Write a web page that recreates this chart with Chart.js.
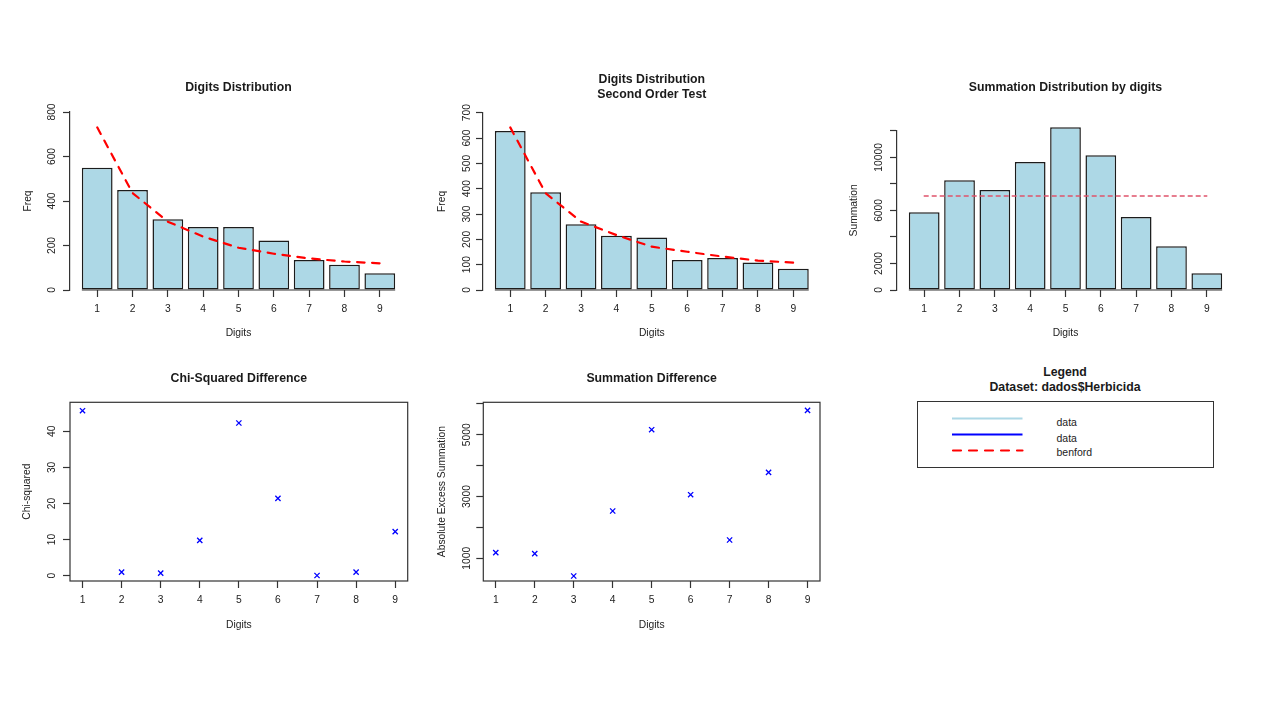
<!DOCTYPE html>
<html>
<head>
<meta charset="utf-8">
<title>Benford analysis</title>
<script src="https://cdn.jsdelivr.net/npm/chart.js@4.4.1/dist/chart.umd.min.js"></script>
<style>
  html, body { margin: 0; padding: 0; background: #fff; }
  #page { position: relative; width: 1280px; height: 720px; overflow: hidden;
          font-family: "Liberation Sans", Arial, Helvetica, sans-serif; color: #222; }
  #page canvas { position: absolute; }
  .legend-title { position: absolute; left: 900px; width: 330px; top: 364.5px; text-align: center;
                  font-weight: bold; font-size: 12.3px; line-height: 15px; color: #1a1a1a; }
  .legend-box { position: absolute; left: 917px; top: 401px; width: 297px; height: 67px;
                box-sizing: border-box; border: 1.2px solid #333; }
  .legend-box svg { position: absolute; left: -1px; top: -1px; }
  .legend-box span { position: absolute; left: 138.5px; font-size: 10.5px; line-height: 12px; }
</style>
</head>
<body>
<div id="page">
  <canvas id="firstDigits"></canvas>
  <canvas id="secondOrder"></canvas>
  <canvas id="summation"></canvas>
  <canvas id="chiSquare"></canvas>
  <canvas id="sumDifference"></canvas>

  <div class="legend-title">Legend<br>Dataset: dados$Herbicida</div>
  <div class="legend-box">
    <svg width="297" height="67">
      <line x1="35" y1="17.5" x2="105.5" y2="17.5" stroke="#ADD8E6" stroke-width="2.2"/>
      <line x1="35" y1="33.5" x2="105.5" y2="33.5" stroke="#0000FF" stroke-width="2.2"/>
      <line x1="36" y1="49.5" x2="105.5" y2="49.5" stroke="#FF0000" stroke-width="2.2"
            stroke-dasharray="8 8" stroke-linecap="round"/>
    </svg>
    <span style="top:13.5px">data</span>
    <span style="top:29.5px">data</span>
    <span style="top:44px">benford</span>
  </div>
</div>
<script>
// values
const digits = [1, 2, 3, 4, 5, 6, 7, 8, 9];

const firstFreq    = [550, 449, 318, 283, 283, 222, 135, 114, 75];
const firstBenford = [731, 436, 307, 240, 190, 163, 142, 128, 120];

const secondFreq    = [628, 386, 260, 214, 207, 118, 126, 109, 84];
const secondBenford = [642, 382, 270, 217, 171, 151, 132, 116, 108];

const digitSums    = [5854, 8264, 7536, 9646, 12260, 10148, 5500, 3290, 1256];
const sumsBenford  = [7084, 7084, 7084, 7084, 7084, 7084, 7084, 7084, 7084];

const chiSquared   = [45.7, 1.0, 0.7, 9.8, 42.3, 21.4, 0.05, 1.0, 12.2];
const excessSums   = [1181, 1149, 427, 2531, 5162, 3058, 1592, 3783, 5790];

// y axis ticks, and the ones that carry a label
const freqTicks1      = [0, 200, 400, 600, 800];
const freqTicks2      = [0, 100, 200, 300, 400, 500, 600, 700];
const sumTicks        = [0, 2000, 4000, 6000, 8000, 10000, 12000];
const sumTickLabels   = [0, 2000, 6000, 10000];
const chiTicks        = [0, 10, 20, 30, 40];
const excessTicks     = [1000, 2000, 3000, 4000, 5000, 6000];
const excessTickLabels = [1000, 3000, 5000];

const FAMILY = '"Liberation Sans", Arial, Helvetica, sans-serif';
const INK = '#222';
const AXIS = '#333';
const TICK_LEN = 7;
const TITLE_LH = 15.7;
const tickFont  = { family: FAMILY, size: 10.3, lineHeight: '12px' };
const titleFont = { family: FAMILY, size: 12.3, weight: 'bold', lineHeight: TITLE_LH + 'px' };

const measureCtx = document.createElement('canvas').getContext('2d');
function widest(labels) {
  measureCtx.font = tickFont.size + 'px ' + FAMILY;
  return Math.max(...labels.map(s => measureCtx.measureText(String(s)).width));
}

function points(ys) {
  return digits.map((d, i) => ({ x: d, y: ys[i] }));
}

// draws the R-style box, or the baseline under the bars
const rFrame = {
  id: 'rFrame',
  afterDatasetsDraw(chart, args, opts) {
    const { ctx, chartArea: a } = chart;
    ctx.save();
    ctx.strokeStyle = AXIS;
    ctx.lineWidth = 1.2;
    if (opts.box) {
      ctx.strokeRect(a.left, a.top, a.right - a.left, a.bottom - a.top);
    }
    if (opts.baseline) {
      const meta = chart.getSortedVisibleDatasetMetas().find(m => m.type === 'bar');
      const bars = meta.data;
      const y = chart.scales.y.getPixelForValue(0);
      ctx.beginPath();
      ctx.moveTo(bars[0].x - bars[0].width / 2, y);
      ctx.lineTo(bars[bars.length - 1].x + bars[bars.length - 1].width / 2, y);
      ctx.stroke();
    }
    ctx.restore();
  }
};

function makeChart(id, spec, cfg) {
  const { box, area, text } = spec;
  const canvas = document.getElementById(id);
  canvas.width = box.w;
  canvas.height = box.h;
  canvas.style.left = box.x + 'px';
  canvas.style.top = box.y + 'px';
  canvas.style.width = box.w + 'px';
  canvas.style.height = box.h + 'px';

  const yLabels = cfg.yLabels || cfg.yTicks;
  const yw = area.left - text.yTitle + 6;
  const xh = text.xTitle + 6 - area.bottom;
  const titleTop = text.title - box.y - TITLE_LH / 2;
  const titleBottom = area.top - box.y - titleTop - TITLE_LH * cfg.title.length;
  const yTickPad = area.left - TICK_LEN - text.yTick - widest(yLabels) / 2;
  const xTickPad = text.xTick - area.bottom - TICK_LEN - 6;

  const grid = {
    display: true, drawOnChartArea: false, drawTicks: true, offset: false,
    tickLength: TICK_LEN, tickColor: AXIS, tickWidth: 1.2
  };

  return new Chart(canvas, {
    type: cfg.type,
    data: { datasets: cfg.datasets },
    options: {
      responsive: false,
      animation: false,
      events: [],
      layout: {
        padding: {
          left: area.left - box.x - yw,
          right: box.x + box.w - area.right,
          top: 0,
          bottom: box.y + box.h - area.bottom - xh
        }
      },
      plugins: {
        legend: { display: false },
        tooltip: { enabled: false },
        title: {
          display: true, text: cfg.title, fullSize: false, font: titleFont, color: '#1a1a1a',
          padding: { top: titleTop, bottom: titleBottom }
        },
        rFrame: cfg.frame
      },
      scales: {
        x: {
          type: 'linear', position: 'bottom', offset: false,
          min: cfg.xRange[0], max: cfg.xRange[1],
          afterBuildTicks: s => { s.ticks = digits.map(v => ({ value: v })); },
          afterFit: s => { s.height = xh; },
          grid: grid,
          border: { display: false },
          ticks: {
            autoSkip: false, maxRotation: 0,
            padding: xTickPad, font: tickFont, color: INK,
            callback: v => String(v)
          },
          title: { display: true, text: 'Digits', font: tickFont, color: INK, padding: 0 }
        },
        y: {
          type: 'linear', position: 'left',
          min: cfg.yRange[0], max: cfg.yRange[1],
          afterBuildTicks: s => { s.ticks = cfg.yTicks.map(v => ({ value: v })); },
          afterFit: s => { s.width = yw; },
          grid: grid,
          border: { display: !cfg.frame.box, color: AXIS, width: 1.2 },
          ticks: {
            autoSkip: false, minRotation: 90, maxRotation: 90, crossAlign: 'center',
            padding: yTickPad, font: tickFont, color: INK,
            callback: v => yLabels.includes(v) ? String(v) : ''
          },
          title: { display: true, text: cfg.yTitle, font: tickFont, color: INK, padding: 0 }
        }
      }
    },
    plugins: [rFrame]
  });
}

function barSet(values, extra) {
  return Object.assign({
    type: 'bar', data: points(values), order: 1,
    backgroundColor: '#ADD8E6', borderColor: '#1c1c1c', borderWidth: 1.5,
    borderSkipped: false, categoryPercentage: 1, barPercentage: 0.87
  }, extra || {});
}

function dashedSet(values, color, width, dash) {
  return {
    type: 'line', data: points(values), order: 0,
    borderColor: color, borderWidth: width, borderDash: dash, borderCapStyle: 'round',
    pointRadius: 0, fill: false, tension: 0
  };
}

function crossSet(values) {
  return {
    type: 'scatter', data: points(values), showLine: false,
    pointStyle: 'crossRot', pointRadius: 3.7, pointBorderWidth: 1.3,
    pointBorderColor: '#0000FF', pointBackgroundColor: 'rgba(0,0,0,0)'
  };
}

makeChart('firstDigits', {
  box: { x: 0, y: 60, w: 425, h: 300 },
  area: { left: 70, right: 407, top: 112, bottom: 290 },
  text: { title: 87.3, yTitle: 28.3, yTick: 51.7, xTick: 309, xTitle: 333.3 }
}, {
  type: 'bar', title: ['Digits Distribution'], yTitle: 'Freq',
  xRange: [0.23, 9.77], yRange: [0, 800], yTicks: freqTicks1,
  frame: { baseline: true },
  datasets: [barSet(firstFreq), dashedSet(firstBenford, '#FF0000', 2.2, [7.5, 7.5])]
});

makeChart('secondOrder', {
  box: { x: 425, y: 60, w: 420, h: 300 },
  area: { left: 483, right: 820.6, top: 112.7, bottom: 290 },
  text: { title: 79.3, yTitle: 441.7, yTick: 466.7, xTick: 309, xTitle: 333.3 }
}, {
  type: 'bar', title: ['Digits Distribution', 'Second Order Test'], yTitle: 'Freq',
  xRange: [0.23, 9.77], yRange: [0, 700], yTicks: freqTicks2,
  frame: { baseline: true },
  datasets: [barSet(secondFreq), dashedSet(secondBenford, '#FF0000', 2.2, [7.5, 7.5])]
});

makeChart('summation', {
  box: { x: 845, y: 60, w: 435, h: 300 },
  area: { left: 897, right: 1234, top: 130.8, bottom: 290 },
  text: { title: 87.3, yTitle: 854, yTick: 879.3, xTick: 309, xTitle: 333.3 }
}, {
  type: 'bar', title: ['Summation Distribution by digits'], yTitle: 'Summation',
  xRange: [0.23, 9.77], yRange: [0, 12000], yTicks: sumTicks, yLabels: sumTickLabels,
  frame: { baseline: true },
  datasets: [barSet(digitSums, { clip: false }), dashedSet(sumsBenford, '#DF536B', 1.4, [4, 4])]
});

makeChart('chiSquare', {
  box: { x: 0, y: 360, w: 425, h: 300 },
  area: { left: 70, right: 407.7, top: 402.3, bottom: 581 },
  text: { title: 379, yTitle: 27.3, yTick: 51.7, xTick: 600, xTitle: 625 }
}, {
  type: 'scatter', title: ['Chi-Squared Difference'], yTitle: 'Chi-squared',
  xRange: [0.68, 9.32], yRange: [-1.47, 48.03], yTicks: chiTicks,
  frame: { box: true },
  datasets: [crossSet(chiSquared)]
});

makeChart('sumDifference', {
  box: { x: 425, y: 360, w: 420, h: 300 },
  area: { left: 483.3, right: 820, top: 402.3, bottom: 581 },
  text: { title: 379, yTitle: 441.7, yTick: 466.7, xTick: 600, xTitle: 625 }
}, {
  type: 'scatter', title: ['Summation Difference'], yTitle: 'Absolute Excess Summation',
  xRange: [0.68, 9.32], yRange: [265, 6049], yTicks: excessTicks, yLabels: excessTickLabels,
  frame: { box: true },
  datasets: [crossSet(excessSums)]
});
</script>
</body>
</html>
